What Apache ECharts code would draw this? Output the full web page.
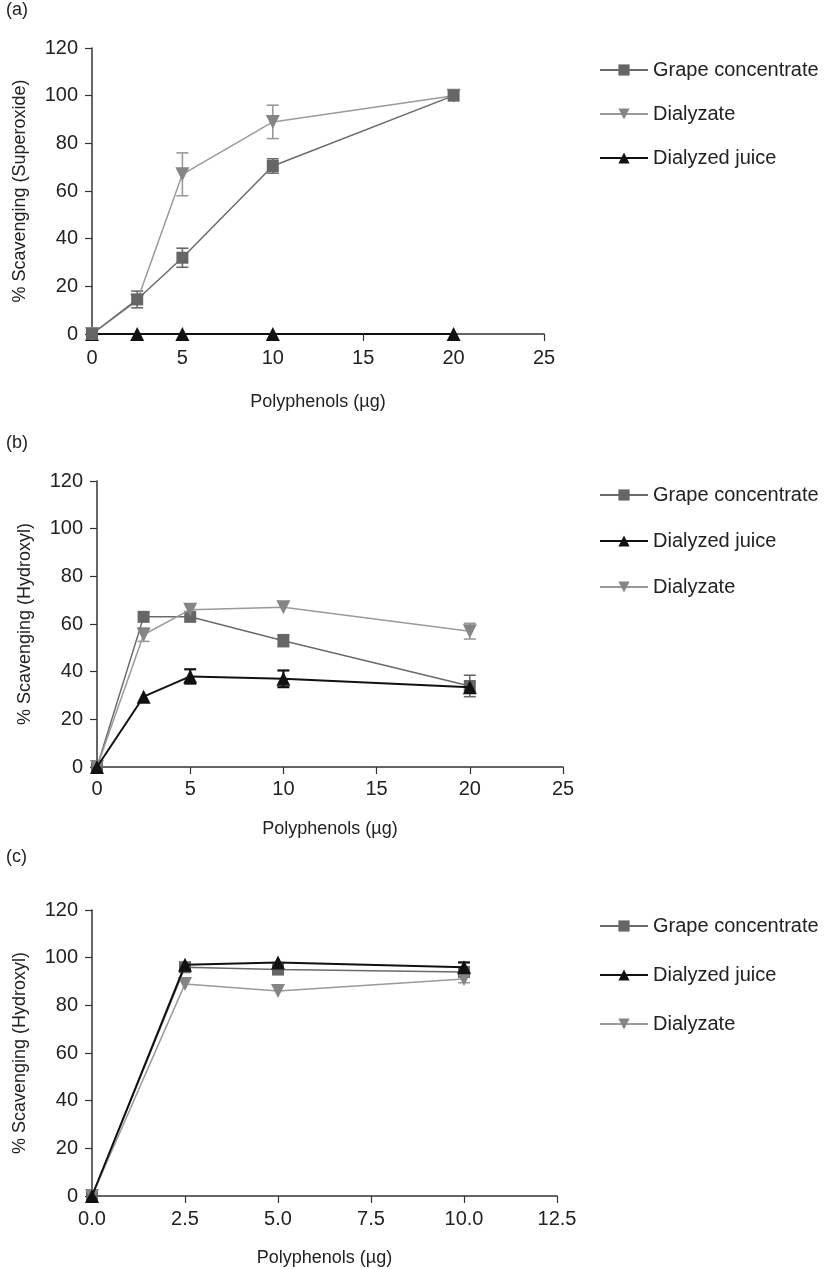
<!DOCTYPE html>
<html><head><meta charset="utf-8">
<script src="https://cdn.jsdelivr.net/npm/echarts@6/dist/echarts.min.js"></script>
<style>html,body{margin:0;padding:0;background:#fff}#c{width:827px;height:1270px}</style>
</head><body><div id="c"></div>
<script>
// ---- Data ----
const xA = [0, 2.5, 5, 10, 20];
const grapeA = [0, 14.5, 32, 70.5, 100];
const grapeAErr = [0, 3.5, 4, 3, 0];
const dialyzateA = [0, 14, 67, 89, 100];
const dialyzateAErr = [0, 0, 9, 7, 0];
const juiceA = [0, 0, 0, 0, 0];
const juiceAErr = [0, 0, 0, 0, 0];

const xB = [0, 2.5, 5, 10, 20];
const grapeB = [0, 63, 63, 53, 34];
const grapeBErr = [0, 0, 0, 2.5, 4.5];
const dialyzateB = [0, 55.5, 66, 67, 57];
const dialyzateBErr = [0, 2.8, 0, 0, 3.3];
const juiceB = [0, 29.5, 38, 37, 33.5];
const juiceBErr = [0, 0, 3, 3.5, 0];

const xC = [0, 2.5, 5, 10];
const grapeC = [0, 96, 95, 94];
const grapeCErr = [0, 0, 0, 0];
const dialyzateC = [0, 89, 86, 91];
const dialyzateCErr = [0, 0, 0, 1.5];
const juiceC = [0, 97, 98, 96];
const juiceCErr = [0, 0, 0, 2];

const NAME_G = 'Grape concentrate', NAME_D = 'Dialyzate', NAME_J = 'Dialyzed juice';
const panelLabels = ['(a)', '(b)', '(c)'];
const yNames = ['% Scavenging (Superoxide)', '% Scavenging (Hydroxyl)', '% Scavenging (Hydroxyl)'];
const xName = 'Polyphenols (\u00b5g)';

// ---- Styles ----
const FONT = '"Liberation Sans", Arial, Helvetica, sans-serif';
const TXT = '#222';
const STY = {
  [NAME_G]: {line: '#6a6a6a', mark: '#666666', symbol: 'rect', size: 12, rotate: 0},
  [NAME_D]: {line: '#9a9a9a', mark: '#858585', symbol: 'triangle', size: 14, rotate: 180},
  [NAME_J]: {line: '#111111', mark: '#111111', symbol: 'triangle', size: 14, rotate: 0}
};

const grids = [
  {left: 92, top: 48, width: 452, height: 286},
  {left: 97, top: 481, width: 466, height: 286},
  {left: 92, top: 910, width: 465, height: 286}
];
const xMax = [25, 25, 12.5];
const xInt = [5, 5, 2.5];
const labelMargin = [14, 12, 13];
const nameGapX = [59, 53, 53];

const panels = [
  {x: xA, sets: [[NAME_J, juiceA, juiceAErr], [NAME_D, dialyzateA, dialyzateAErr], [NAME_G, grapeA, grapeAErr]]},
  {x: xB, sets: [[NAME_G, grapeB, grapeBErr], [NAME_D, dialyzateB, dialyzateBErr], [NAME_J, juiceB, juiceBErr]]},
  {x: xC, sets: [[NAME_G, grapeC, grapeCErr], [NAME_D, dialyzateC, dialyzateCErr], [NAME_J, juiceC, juiceCErr]]}
];

const xAxis = [], yAxis = [], series = [];
grids.forEach((g, i) => {
  xAxis.push({
    type: 'value', gridIndex: i, min: 0, max: xMax[i], interval: xInt[i],
    name: xName, nameLocation: 'middle', nameGap: nameGapX[i],
    nameTextStyle: {fontFamily: FONT, fontSize: 18, color: TXT},
    axisLine: {show: true, onZero: false, lineStyle: {color: '#333', width: 1.5}},
    axisTick: {show: true, length: 7, lineStyle: {color: '#333', width: 1.2}},
    axisLabel: {fontFamily: FONT, fontSize: 20, color: TXT, margin: labelMargin[i],
      formatter: v => i === 2 ? v.toFixed(1) : String(v)},
    splitLine: {show: false}
  });
  yAxis.push({
    type: 'value', gridIndex: i, min: 0, max: 120, interval: 20,
    name: yNames[i], nameLocation: 'middle', nameGap: 63, nameRotate: 90,
    nameTextStyle: {fontFamily: FONT, fontSize: 18, color: TXT},
    axisLine: {show: true, lineStyle: {color: '#333', width: 1.5}},
    axisTick: {show: true, length: 7, lineStyle: {color: '#333', width: 1.2}},
    axisLabel: {fontFamily: FONT, fontSize: 20, color: TXT, margin: 14},
    splitLine: {show: false}
  });
  const p = panels[i];
  p.sets.forEach(([name, ys, errs], k) => {
    const s = STY[name];
    series.push({
      type: 'line', name: name, xAxisIndex: i, yAxisIndex: i, z: 5 + k,
      data: p.x.map((xv, j) => [xv, ys[j]]),
      symbol: s.symbol, symbolSize: s.size, symbolRotate: s.rotate,
      showAllSymbol: true, clip: false, animation: false,
      color: s.mark,
      lineStyle: {color: s.line, width: name === NAME_J ? 2 : 1.5},
      itemStyle: {color: s.mark, borderWidth: 0}
    });
    series.push({
      type: 'custom', name: name + ' error', xAxisIndex: i, yAxisIndex: i, z: 2 + k,
      clip: false, silent: true, color: s.line,
      data: p.x.map((xv, j) => [xv, ys[j], errs[j]]),
      renderItem: (params, api) => {
        const e = api.value(2);
        if (!e) return null;
        const xv = api.value(0), yv = api.value(1);
        const top = api.coord([xv, yv + e]);
        const bot = api.coord([xv, yv - e]);
        const hw = 6;
        const st = {stroke: s.line, lineWidth: name === NAME_J ? 2.2 : 1.6};
        return {type: 'group', children: [
          {type: 'line', shape: {x1: top[0], y1: top[1], x2: bot[0], y2: bot[1]}, style: st},
          {type: 'line', shape: {x1: top[0] - hw, y1: top[1], x2: top[0] + hw, y2: top[1]}, style: st},
          {type: 'line', shape: {x1: bot[0] - hw, y1: bot[1], x2: bot[0] + hw, y2: bot[1]}, style: st}
        ]};
      }
    });
  });
});

function legend(top, gap, names) {
  return {
    orient: 'vertical', left: 594, top: top, itemGap: gap,
    itemWidth: 48, itemHeight: 14, selectedMode: false,
    textStyle: {fontFamily: FONT, fontSize: 20, color: TXT, lineHeight: 22},
    data: names
  };
}

const chart = echarts.init(document.getElementById('c'), null, {renderer: 'canvas'});
chart.setOption({
  animation: false,
  backgroundColor: '#fff',
  grid: grids,
  xAxis: xAxis,
  yAxis: yAxis,
  legend: [
    legend(54, 22, [NAME_G, NAME_D, NAME_J]),
    legend(479, 24, [NAME_G, NAME_J, NAME_D]),
    legend(910, 27, [NAME_G, NAME_J, NAME_D])
  ],
  graphic: [
    {type: 'text', left: 6, top: 1, style: {text: panelLabels[0], font: '18px ' + FONT, fill: TXT}},
    {type: 'text', left: 6, top: 434, style: {text: panelLabels[1], font: '18px ' + FONT, fill: TXT}},
    {type: 'text', left: 6, top: 848, style: {text: panelLabels[2], font: '18px ' + FONT, fill: TXT}}
  ],
  series: series
});
</script>
</body></html>
